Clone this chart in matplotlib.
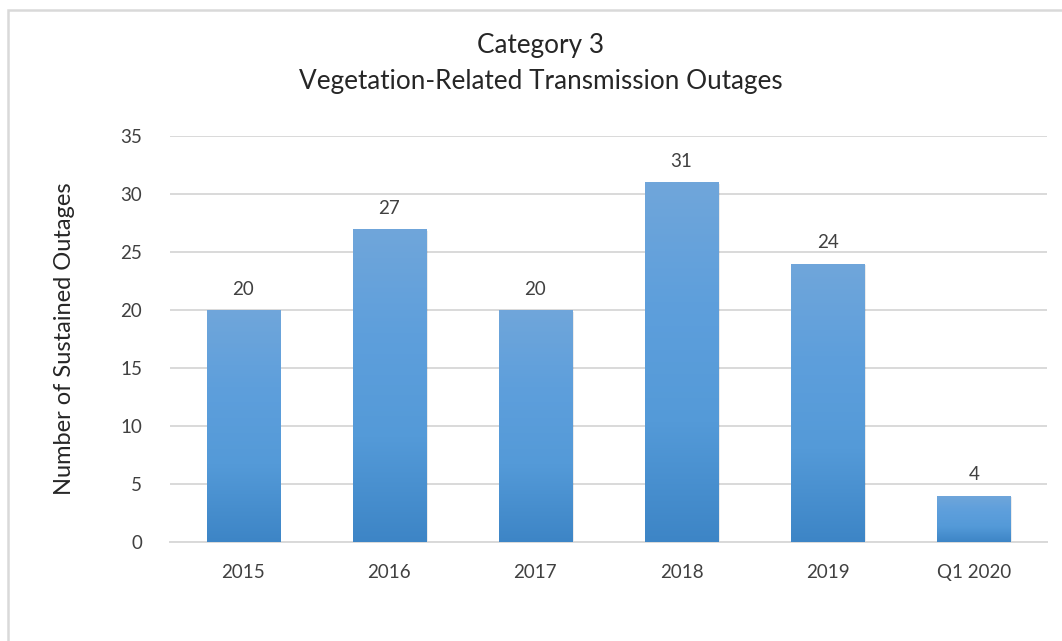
import matplotlib
matplotlib.use("Agg")
import matplotlib.pyplot as plt
import numpy as np
from matplotlib.patches import Rectangle
from matplotlib.colors import LinearSegmentedColormap

categories = ["2015", "2016", "2017", "2018", "2019", "Q1 2020"]
values = [20, 27, 20, 31, 24, 4]
title_lines = ["Category 3", "Vegetation-Related Transmission Outages"]
ylabel = "Number of Sustained Outages"
yticks = [0, 5, 10, 15, 20, 25, 30, 35]

plt.rcParams['font.family'] = ['Lato', 'DejaVu Sans']

W, H = 1062, 641
fig = plt.figure(figsize=(W / 100, H / 100), dpi=100)
ax = fig.add_axes([170 / W, 1 - 542 / H, (1047 - 170) / W, (542 - 136) / H])

x = np.arange(len(categories))
bars = ax.bar(x, values, width=0.5, color="#5b9bd5", zorder=3, linewidth=0)

cmap = LinearSegmentedColormap.from_list("g", ["#3d85c6", "#549ad8", "#5e9fdc", "#70a6da"])
grad = np.linspace(0, 1, 256).reshape(-1, 1)
for b in bars:
    x0, y0 = b.get_x(), b.get_y()
    w, h = b.get_width(), b.get_height()
    ax.add_patch(Rectangle((x0 + 0.012, y0), w, h - 0.15, facecolor="#000000", alpha=0.08,
                           zorder=2, linewidth=0))
    im = ax.imshow(grad, extent=[x0, x0 + w, y0, y0 + h], origin="lower", cmap=cmap,
                   aspect="auto", zorder=3.5, interpolation="bilinear")
    im.set_clip_path(b)
    ax.text(x0 + w / 2, y0 + h + 1.05, str(int(h)), ha="center", va="bottom",
            fontsize=13.5, color="#404040")

ax.set_xlim(-0.5, len(categories) - 0.5)
ax.set_ylim(0, 35)
ax.set_yticks(yticks)
ax.set_xticks(x)
ax.set_xticklabels(categories)
ax.tick_params(axis="both", length=0, labelsize=13.5, labelcolor="#404040")
ax.tick_params(axis="y", pad=20)
ax.tick_params(axis="x", pad=16)
ax.grid(axis="y", color="#d9d9d9", linewidth=1.4, zorder=0)
ax.set_axisbelow(True)
for s in ["top", "right", "left"]:
    ax.spines[s].set_visible(False)
ax.spines["bottom"].set_color("#d9d9d9")
ax.spines["bottom"].set_linewidth(1.4)

ax.set_ylabel(ylabel, fontsize=17, color="#262626")
ax.yaxis.set_label_coords(-(170 - 65) / (1047 - 170), 0.5)
ax.yaxis.label.set_va("center")

fig.text(541 / W, 1 - 46 / H, title_lines[0], ha="center", va="center", fontsize=18.8, color="#262626")
fig.text(541 / W, 1 - 81 / H, title_lines[1], ha="center", va="center", fontsize=18.8, color="#262626")

border = Rectangle((8 / W, -0.1), 1.2, 1 - 10 / H + 0.1, transform=fig.transFigure,
                   fill=False, edgecolor="#d9d9d9", linewidth=1.8)
fig.patches.append(border)

fig.savefig("out.png", dpi=100)
